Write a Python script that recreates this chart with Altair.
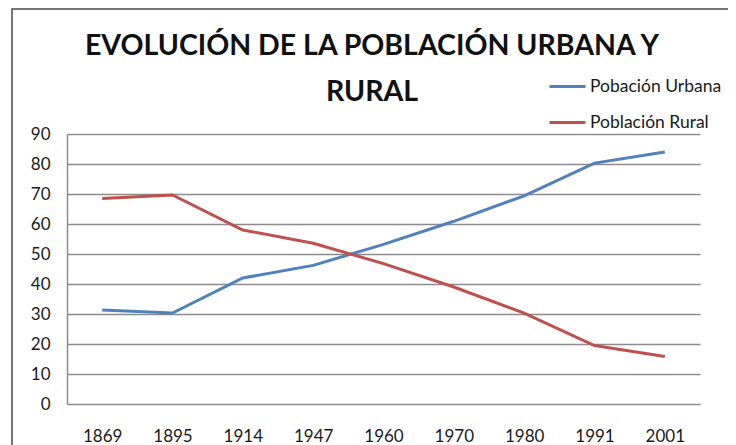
import altair as alt
import pandas as pd

years = ["1869", "1895", "1914", "1947", "1960", "1970", "1980", "1991", "2001"]
urbana = [31.3, 30.3, 42.0, 46.2, 53.2, 60.9, 69.4, 80.3, 84.0]
rural = [68.5, 69.7, 58.0, 53.6, 46.8, 39.0, 30.3, 19.5, 15.8]
series_names = ["Pobación Urbana", "Población Rural"]
colors = ["#4F81BD", "#C0504D"]
title_line1 = "EVOLUCIÓN DE LA POBLACIÓN URBANA Y"
title_line2 = "RURAL"

rows = []
for i, y in enumerate(years):
    rows.append({"year": y, "serie": series_names[0], "valor": urbana[i]})
    rows.append({"year": y, "serie": series_names[1], "valor": rural[i]})
df = pd.DataFrame(rows)

FONT = "Lato"

lines = alt.Chart(df).mark_line(strokeWidth=3).encode(
    x=alt.X("year:N", sort=years, title=None,
            scale=alt.Scale(type="point", padding=0.5),
            axis=alt.Axis(labelAngle=0, domain=False, ticks=False, tickSize=0,
                          grid=False, labelPadding=24, labelFontSize=17,
                          labelFont=FONT, labelColor="#1a1a1a")),
    y=alt.Y("valor:Q", title=None,
            scale=alt.Scale(domain=[0, 90], nice=False),
            axis=alt.Axis(values=list(range(0, 91, 10)), grid=True,
                          gridColor="#8c8c8c", gridWidth=1.5,
                          domain=True, domainColor="#8c8c8c", domainWidth=1.5,
                          ticks=False, tickSize=0, labelPadding=17,
                          labelFontSize=17, labelFont=FONT, labelColor="#1a1a1a")),
    color=alt.Color("serie:N", sort=series_names,
                    scale=alt.Scale(domain=series_names, range=colors),
                    legend=alt.Legend(title=None, orient="none", legendX=481, legendY=-67,
                                      symbolType="stroke", symbolSize=1296,
                                      symbolStrokeWidth=3, labelFontSize=17.5,
                                      labelFont=FONT, labelColor="#1a1a1a",
                                      rowPadding=8, labelOffset=3)),
)

frame = alt.Chart(pd.DataFrame({"a": [0]})).mark_rect(
    fill=None, fillOpacity=0, stroke="#4a4a4a", strokeWidth=1.5
).encode(x=alt.value(-55), x2=alt.value(664), y=alt.value(-125), y2=alt.value(330))

title1 = alt.Chart(pd.DataFrame({"t": [title_line1]})).mark_text(
    font=FONT, fontSize=28.5, fontWeight="bold", color="#111111",
    align="center", baseline="alphabetic"
).encode(text="t:N", x=alt.value(305), y=alt.value(-79))

title2 = alt.Chart(pd.DataFrame({"t": [title_line2]})).mark_text(
    font=FONT, fontSize=28.5, fontWeight="bold", color="#111111",
    align="center", baseline="alphabetic"
).encode(text="t:N", x=alt.value(305), y=alt.value(-33))

chart = alt.layer(frame, title1, title2, lines).properties(
    width=633, height=270,
    padding={"left": 59, "top": 126, "right": 28, "bottom": 45},
    autosize=alt.AutoSizeParams(type="none"),
).configure_view(stroke=None)

chart.save("out.html", embed_options={"renderer": "svg", "actions": False})
